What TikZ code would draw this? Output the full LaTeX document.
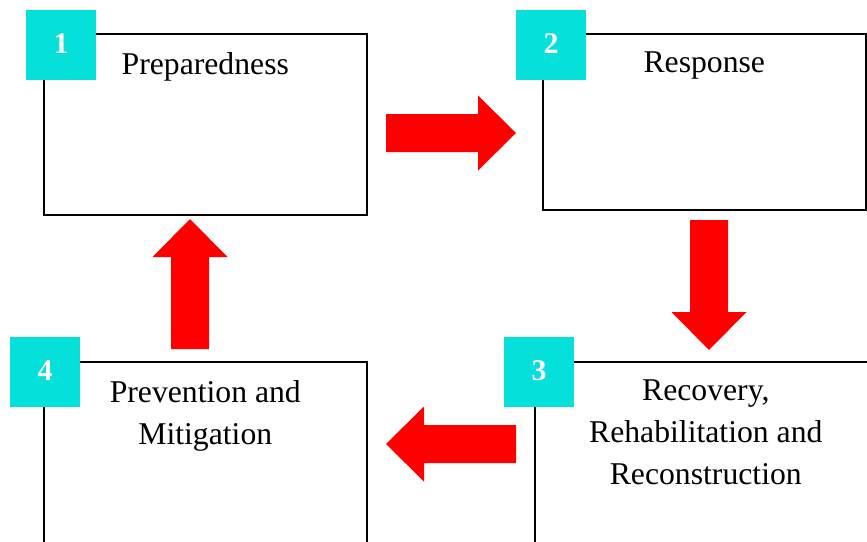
\documentclass[tikz,border=0pt]{standalone}
\usepackage{fontspec}
\setmainfont{Liberation Serif}
\usepackage{tikz}
\usetikzlibrary{positioning}

\definecolor{tagcyan}{RGB}{6,224,218}

\tikzset{
  stagebox/.style={draw, line width=1.6pt, inner sep=0pt, anchor=north west},
  stagetext/.style={align=center, inner sep=0pt, anchor=north,
    font=\fontsize{31.7}{42}\selectfont},
  tagbox/.style={fill=tagcyan, minimum size=70pt, inner sep=0pt, text=white,
    font=\bfseries\fontsize{30}{30}\selectfont},
  pics/blockarrow/.style={code={
    \fill[red] (0,-19) -- (92,-19) -- (92,-37.5) -- (130,0) -- (92,37.5)
      -- (92,19) -- (0,19) -- cycle;
  }}
}

\begin{document}
\begin{tikzpicture}[x=1pt,y=-1pt]
    \useasboundingbox (0,0) rectangle (867,541);
    \clip (0,0) rectangle (867,541);

    % Stage boxes
    \node[stagebox, minimum width=323pt, minimum height=181pt] (prep) at (43,33) {};
    \node[stagebox, minimum width=323pt, minimum height=176pt] (resp) at (542,33) {};
    \node[stagebox, minimum width=342pt, minimum height=182pt] (reco) at (534,361) {};
    \node[stagebox, minimum width=323pt, minimum height=182pt] (prev) at (43,361) {};

    \node[stagetext, below=19pt of prep.north] (preptxt) {Preparedness};
    \node[stagetext, below=19pt of resp.north] (resptxt) {Response};
    \node[stagetext, below=19pt of reco.north] (recotxt) {Recovery,\\Rehabilitation and\\Reconstruction};
    \node[stagetext, below=19pt of prev.north] (prevtxt) {Prevention and\\Mitigation};

    % Numbered tags
    \foreach \n/\x/\y in {1/61/45, 2/551/45, 3/539/372, 4/45/372} {
        \node[tagbox] (tag\n) at (\x,\y) {\raisebox{3pt}{\n}};
    }

    % Arrows between the stages
    \coordinate (a12) at (386,133);
    \coordinate (a23) at (709,220);
    \coordinate (a34) at (516,444);
    \coordinate (a41) at (190,349);
    \pic at (a12) {blockarrow};
    \pic[rotate=-90] at (a23) {blockarrow};
    \pic[rotate=180] at (a34) {blockarrow};
    \pic[rotate=90] at (a41) {blockarrow};
\end{tikzpicture}
\end{document}
